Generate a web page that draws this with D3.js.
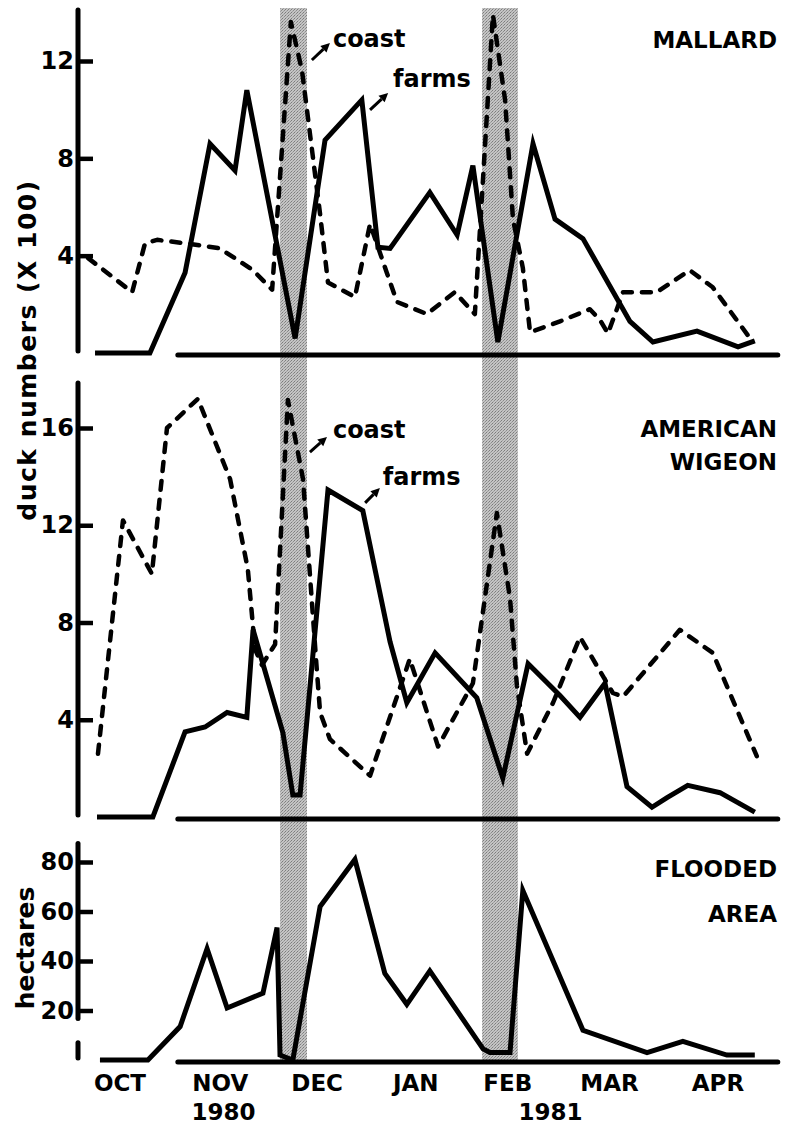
<!DOCTYPE html>
<html>
<head>
<meta charset="utf-8">
<script src="https://cdn.jsdelivr.net/npm/d3@7"></script>
<style>
  body { margin: 0; background: #fff; }
  svg { display: block; font-family: "DejaVu Sans", Verdana, sans-serif; font-weight: bold; }
</style>
</head>
<body>
<div id="chart"></div>
<script>
// x values are days after 1 Oct 1980, y values as plotted
var monthLabels = ["OCT", "NOV", "DEC", "JAN", "FEB", "MAR", "APR"];
var monthDays = [0, 30.5, 60, 90, 118, 149, 182];
var yearLabels = ["1980", "1981"];
var yearDays = [31.5, 131];

// shaded periods
var bands = [[48.7, 56.9], [110.2, 121.1]];

var mallardTicks = [4, 8, 12];
var wigeonTicks = [4, 8, 12, 16];
var floodTicks = [20, 40, 60, 80];

var mallardFarms = [[-7.6, 0], [9.1, 0], [19.8, 3.3], [27.4, 8.6], [35.0, 7.5], [38.6, 10.8],
    [53.3, 0.6], [62.4, 8.75], [73.6, 10.4], [78.5, 4.35], [82.2, 4.3], [94.3, 6.6], [102.6, 4.85],
    [107.4, 7.7], [115.0, 0.45], [125.7, 8.6], [132.4, 5.5], [140.9, 4.7], [155.2, 1.3],
    [162.2, 0.45], [175.6, 0.9], [188.1, 0.25], [193.2, 0.5]];

var mallardCoast = [[-9.7, 3.9], [3.7, 2.5], [7.6, 4.5], [11.3, 4.65], [20.4, 4.5], [30.4, 4.3],
    [40.5, 3.4], [46.3, 2.6], [52.0, 13.6], [55.4, 11.6], [60.9, 5.7], [63.3, 2.9], [71.5, 2.3],
    [76.1, 5.3], [81.2, 3.3], [84.3, 2.1], [93.4, 1.6], [101.9, 2.5], [108.0, 1.6], [113.5, 13.9],
    [117.2, 10.4], [119.6, 5.5], [122.6, 3.5], [124.8, 0.85], [133.9, 1.3], [143.0, 1.8],
    [146.1, 1.35], [148.5, 0.8], [153.1, 2.5], [163.4, 2.5], [173.4, 3.4], [180.4, 2.7], [192.6, 0.45]];

var wigeonFarms = [[-7.0, 0], [10.0, 0], [19.8, 3.5], [25.9, 3.7], [32.6, 4.3], [38.6, 4.1],
    [40.5, 7.7], [49.6, 3.45], [52.6, 0.9], [54.8, 0.9], [63.3, 13.45], [73.9, 12.6], [82.2, 7.2],
    [87.3, 4.7], [95.9, 6.75], [108.6, 4.9], [110.5, 4.1], [116.5, 1.6], [124.2, 6.3], [133.9, 5.0],
    [140.0, 4.1], [147.6, 5.5], [154.3, 1.25], [161.9, 0.4], [166.5, 0.8], [172.8, 1.3],
    [182.6, 1.0], [193.2, 0.2]];

var wigeonCoast = [[-6.7, 2.6], [0.9, 12.2], [9.7, 10.0], [14.3, 16.0], [23.7, 17.2], [33.5, 13.9],
    [38.9, 10.2], [41.1, 6.9], [43.2, 6.25], [47.2, 7.1], [51.1, 17.15], [55.7, 13.9], [59.9, 6.05],
    [60.9, 4.3], [63.9, 3.2], [76.1, 1.7], [88.2, 6.5], [96.8, 2.9], [107.4, 5.5], [114.7, 12.5],
    [118.7, 9.0], [120.8, 5.4], [123.9, 2.6], [131.8, 4.7], [140.0, 7.4], [150.0, 5.1],
    [153.1, 4.95], [170.4, 7.7], [180.4, 6.75], [193.8, 2.5]];

var floodedArea = [[-6.1, 0], [8.5, 0], [18.3, 13.5], [26.5, 45], [32.6, 21], [43.5, 27],
    [47.8, 53.5], [48.7, 2], [52.6, 0], [60.9, 62], [71.5, 81], [80.6, 35], [87.3, 22.5],
    [94.3, 36], [110.5, 4.5], [112.6, 3], [118.7, 3], [122.6, 68.5], [140.9, 12], [160.4, 3],
    [171.3, 7.5], [184.7, 2], [193.2, 2]];

var width = 788,
    height = 1127;

var svg = d3.select("#chart").append("svg")
    .attr("width", width)
    .attr("height", height);

// grainy grey for the shaded periods
var pat = svg.append("defs").append("pattern")
    .attr("id", "stipple")
    .attr("patternUnits", "userSpaceOnUse")
    .attr("width", 3)
    .attr("height", 3);
pat.append("rect").attr("width", 3).attr("height", 3).attr("fill", "#c4c4c4");
pat.append("rect").attr("x", 0).attr("y", 0).attr("width", 1).attr("height", 1).attr("fill", "#7c7c7c");
pat.append("rect").attr("x", 2).attr("y", 1).attr("width", 1).attr("height", 1).attr("fill", "#8c8c8c");
pat.append("rect").attr("x", 1).attr("y", 2).attr("width", 1).attr("height", 1).attr("fill", "#a0a0a0");

var x = d3.scaleLinear().domain([0, 182]).range([120, 718]);

var panels = [
    { y0: 353, yRef: 61, ref: 12, max: 14.1, ticks: mallardTicks, gaps: [],
      solid: mallardFarms, dashed: mallardCoast,
      title: ["MALLARD"], titleY: 48, titleGap: 0,
      notes: [{ t: "coast", day: 64.8, v: 12.58, ax: [[58.4, 12.04], [63.9, 12.74]] },
              { t: "farms", day: 83.1, v: 10.93, ax: [[76.1, 9.99], [81.6, 10.69]] }] },
    { y0: 817, yRef: 428, ref: 16, max: 17.85, ticks: wigeonTicks, gaps: [],
      solid: wigeonFarms, dashed: wigeonCoast,
      title: ["AMERICAN", "WIGEON"], titleY: 437, titleGap: 33,
      notes: [{ t: "coast", day: 64.8, v: 15.59, ax: [[57.8, 15.01], [63.0, 15.63]] },
              { t: "farms", day: 80.0, v: 13.66, ax: [[74.6, 12.92], [79.1, 13.53]] }] },
    { y0: 1060, yRef: 862, ref: 80, max: 87.5, ticks: floodTicks, gaps: [[7, 16]],
      solid: floodedArea, dashed: null,
      title: ["FLOODED", "AREA"], titleY: 877, titleGap: 45 }
];

// shaded bands behind everything
svg.selectAll(".band")
    .data(bands)
    .enter().append("rect")
    .attr("class", "band")
    .attr("x", function(d) { return x(d[0]); })
    .attr("width", function(d) { return x(d[1]) - x(d[0]); })
    .attr("y", 8)
    .attr("height", 1054)
    .attr("fill", "url(#stipple)");

panels.forEach(function(p) {
    var y = d3.scaleLinear().domain([0, p.ref]).range([p.y0, p.yRef]);
    var g = svg.append("g");

    // y axis, ticks point inward
    var yAxis = d3.axisLeft(y)
        .tickValues(p.ticks)
        .tickSizeInner(-15)
        .tickSizeOuter(0)
        .tickPadding(4);
    var ax = g.append("g")
        .attr("transform", "translate(78,0)")
        .call(yAxis);
    ax.select(".domain").remove();
    ax.selectAll(".tick line").attr("stroke", "#000").attr("stroke-width", 4.5);
    ax.selectAll(".tick text")
        .attr("fill", "#000")
        .style("font-size", "24px")
        .style("font-family", "DejaVu Sans, Verdana, sans-serif")
        .style("font-weight", "bold");

    // vertical axis line, with a break where the original has one
    var stops = [0];
    p.gaps.forEach(function(gp) { stops.push(gp[0], gp[1]); });
    stops.push(p.max);
    for (var i = 0; i < stops.length; i += 2) {
        g.append("line")
            .attr("x1", 78).attr("x2", 78)
            .attr("y1", y(stops[i]) - 2).attr("y2", y(stops[i + 1]))
            .attr("stroke", "#000").attr("stroke-width", 5)
            .attr("stroke-linecap", "round");
    }

    // horizontal baseline
    g.append("line")
        .attr("x1", x(17.6)).attr("x2", x(200.2))
        .attr("y1", y(0) + 2).attr("y2", y(0) + 2)
        .attr("stroke", "#000").attr("stroke-width", 5)
        .attr("stroke-linecap", "round");

    var line = d3.line()
        .x(function(d) { return x(d[0]); })
        .y(function(d) { return y(d[1]); });

    if (p.dashed) {
        g.append("path")
            .datum(p.dashed)
            .attr("d", line)
            .attr("fill", "none")
            .attr("stroke", "#000")
            .attr("stroke-width", 4.5)
            .attr("stroke-dasharray", "9,10")
            .attr("stroke-linecap", "round")
            .attr("stroke-linejoin", "round");
    }

    g.append("path")
        .datum(p.solid)
        .attr("d", line)
        .attr("fill", "none")
        .attr("stroke", "#000")
        .attr("stroke-width", 5)
        .attr("stroke-linejoin", "miter")
        .attr("stroke-miterlimit", 5);

    // panel title
    g.selectAll(".title")
        .data(p.title)
        .enter().append("text")
        .attr("x", 777)
        .attr("y", function(d, i) { return p.titleY + i * p.titleGap; })
        .attr("text-anchor", "end")
        .style("font-size", "23px")
        .text(function(d) { return d; });

    // coast / farms labels with little arrows
    (p.notes || []).forEach(function(n) {
        g.append("text")
            .attr("x", x(n.day))
            .attr("y", y(n.v))
            .style("font-size", "24px")
            .text(n.t);
        var a = n.ax;
        var x1 = x(a[0][0]), y1 = y(a[0][1]), x2 = x(a[1][0]), y2 = y(a[1][1]);
        var ang = Math.atan2(y2 - y1, x2 - x1);
        var hl = 9, hw = 4.5;
        var bx = x2 - hl * Math.cos(ang), by = y2 - hl * Math.sin(ang);
        g.append("line")
            .attr("x1", x1).attr("y1", y1).attr("x2", bx).attr("y2", by)
            .attr("stroke", "#000").attr("stroke-width", 3);
        g.append("path")
            .attr("d", "M" + x2 + "," + y2 +
                "L" + (bx + hw * Math.sin(ang)) + "," + (by - hw * Math.cos(ang)) +
                "L" + (bx - hw * Math.sin(ang)) + "," + (by + hw * Math.cos(ang)) + "Z")
            .attr("fill", "#000");
    });
});

// month and year labels along the bottom
svg.selectAll(".month")
    .data(monthLabels)
    .enter().append("text")
    .attr("x", function(d, i) { return x(monthDays[i]); })
    .attr("y", 1091)
    .attr("text-anchor", "middle")
    .style("font-size", "23px")
    .text(function(d) { return d; });

svg.selectAll(".year")
    .data(yearLabels)
    .enter().append("text")
    .attr("x", function(d, i) { return x(yearDays[i]); })
    .attr("y", 1120)
    .attr("text-anchor", "middle")
    .style("font-size", "23px")
    .text(function(d) { return d; });

// rotated axis titles
svg.append("text")
    .attr("transform", "translate(36,350) rotate(-90)")
    .attr("text-anchor", "middle")
    .style("font-size", "25px")
    .style("letter-spacing", "1.5px")
    .text("duck numbers (X 100)");

svg.append("text")
    .attr("transform", "translate(34,948) rotate(-90)")
    .attr("text-anchor", "middle")
    .style("font-size", "25px")
    .text("hectares");
</script>
</body>
</html>
